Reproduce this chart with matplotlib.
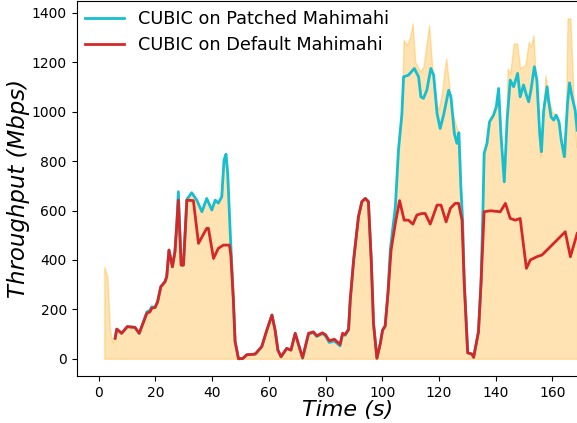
import matplotlib.pyplot as plt

# link capacity trace (shaded area)
link_t = [2.0, 3.1, 4.0, 5.0, 5.8, 6.4, 8.1, 10.1, 12.8, 14.3, 16.1, 17.0, 18.1, 18.7, 19.9,
          20.8, 21.9, 23.4, 24.0, 24.8, 25.5, 26.0, 26.9, 27.5, 28.1, 29.1, 29.9, 31.1, 32.8,
          34.6, 36.4, 38.1, 39.9, 41.1, 42.2, 43.4, 44.2, 44.9, 45.5, 46.4, 47.5, 48.1, 49.3,
          50.8, 52.2, 55.2, 57.5, 59.3, 61.1, 62.2, 63.2, 64.3, 66.3, 67.8, 69.3, 70.7, 71.9,
          74.0, 75.7, 76.9, 78.9, 80.0, 81.3, 83.1, 85.1, 86.0, 86.9, 88.1, 88.7, 89.9, 91.6,
          92.8, 94.0, 95.1, 96.1, 96.9, 98.1, 99.3, 100.1, 101.0, 102.0, 102.8, 104.6, 105.7,
          106.9, 107.5, 108.7, 109.8, 110.7, 111.6, 113.4, 114.5, 115.7, 116.5, 117.5, 118.7,
          119.8, 121.0, 121.8, 122.5, 123.4, 124.5, 126.3, 127.0, 127.7, 128.3, 128.9, 130.1,
          131.6, 132.2, 133.9, 134.8, 135.5, 135.9, 136.9, 137.8, 139.2, 140.2, 141.0, 141.8,
          143.0, 144.2, 145.1, 146.3, 147.5, 148.6, 150.4, 151.6, 152.4, 153.3, 153.9, 155.1,
          155.7, 157.5, 158.6, 159.8, 161.3, 162.3, 163.5, 164.5, 165.3, 166.3, 167.4, 168.4,
          168.7]
link = [372, 332, 116, 65, 83, 120, 103, 130, 127, 103, 160, 190, 190, 210, 208,
        231, 291, 312, 332, 440, 400, 372, 433, 534, 676, 379, 379, 645, 672,
        642, 595, 649, 602, 642, 630, 656, 804, 828, 750, 507, 238, 69, 0,
        1, 16, 19, 49, 116, 177, 116, 35, 8, 42, 35, 103, 49, 4,
        103, 109, 93, 105, 97, 73, 79, 58, 103, 98, 119, 238, 400, 575,
        636, 649, 636, 400, 143, 2, 62, 116, 132, 265, 440, 615, 845,
        1006, 1290, 1270, 1303, 1357, 1202, 1161, 1182, 1283, 1350, 1195, 1060,
        1006, 1074, 1155, 1216, 1128, 1006, 932, 915, 696, 561, 305, 24,
        19, 6, 109, 305, 615, 831, 872, 959, 986, 1020, 1094, 912,
        716, 1175, 1155, 1276, 1276, 1175, 1189, 1283, 1263, 1310, 1182, 912,
        818, 1148, 1060, 1000, 986, 959, 818, 818, 1378, 1378, 1074, 858,
        858]

# CUBIC on patched mahimahi
patched_t = [5.8, 6.4, 8.1, 10.1, 12.8, 14.3, 16.1, 17.0, 18.1, 18.7, 19.9, 20.8, 21.9, 23.4,
             24.0, 24.8, 25.5, 26.0, 26.9, 27.5, 28.1, 29.1, 29.9, 31.1, 32.8, 34.6, 36.4,
             38.1, 39.9, 41.1, 42.2, 43.4, 44.2, 44.9, 45.5, 46.4, 47.5, 48.1, 49.3, 50.8,
             52.2, 55.2, 57.5, 59.3, 61.1, 62.2, 63.2, 64.3, 66.3, 67.8, 69.3, 70.7, 71.9,
             74.0, 75.7, 76.9, 78.9, 80.0, 81.3, 83.1, 85.1, 86.0, 86.9, 88.1, 88.7, 89.9,
             91.6, 92.8, 94.0, 95.1, 96.1, 96.9, 98.1, 99.3, 100.1, 101.0, 102.0, 102.8,
             104.6, 105.7, 106.9, 107.5, 109.2, 111.3, 112.8, 113.6, 114.5, 115.7, 117.1,
             118.1, 119.3, 120.4, 121.6, 123.4, 124.2, 125.4, 126.3, 127.0, 127.7, 128.3,
             128.9, 130.1, 131.6, 132.2, 133.9, 134.8, 135.5, 135.9, 136.9, 137.8, 139.2,
             140.2, 141.0, 141.8, 143.0, 144.0, 145.1, 146.3, 147.7, 148.6, 149.8, 150.8,
             151.6, 152.4, 153.6, 154.5, 155.5, 156.1, 156.9, 158.1, 158.6, 159.5, 160.4,
             161.3, 162.3, 163.1, 164.2, 165.3, 166.0, 166.9, 168.0, 168.7]
patched = [83, 120, 103, 130, 127, 103, 160, 190, 196, 210, 208, 231, 291, 312,
           332, 440, 400, 372, 433, 534, 676, 379, 379, 645, 672, 642, 595,
           649, 602, 642, 630, 656, 804, 828, 750, 507, 238, 69, 0, 1,
           16, 19, 49, 116, 177, 116, 35, 8, 42, 35, 103, 49, 2,
           100, 106, 90, 102, 92, 66, 72, 52, 98, 95, 117, 238, 400,
           575, 636, 649, 636, 400, 143, 2, 62, 116, 132, 265, 440,
           615, 845, 990, 1141, 1148, 1175, 1141, 1060, 1054, 1087, 1175,
           1148, 993, 932, 986, 1087, 1060, 912, 872, 915, 696, 561,
           305, 24, 19, 6, 109, 305, 615, 831, 872, 959, 986,
           1020, 1094, 912, 716, 966, 1128, 1101, 1155, 1060, 1108, 1067,
           1040, 1087, 1182, 1128, 912, 838, 1006, 1101, 1047, 979, 966,
           986, 959, 885, 818, 1033, 1117, 1060, 1006, 925]

# CUBIC on default mahimahi
default_t = [5.8, 6.4, 8.1, 10.1, 12.8, 14.3, 16.1, 17.0, 18.1, 18.7, 19.9, 20.8, 21.9, 23.4,
             24.0, 24.8, 25.5, 26.0, 26.9, 27.5, 28.1, 29.1, 29.9, 31.1, 33.4, 35.2, 38.1,
             38.7, 40.5, 42.2, 44.0, 46.1, 46.6, 47.5, 48.1, 49.3, 50.8, 52.2, 55.2, 57.5,
             59.3, 61.1, 62.2, 63.2, 64.3, 66.3, 67.8, 69.3, 70.7, 71.9, 74.0, 75.7, 76.9,
             78.9, 80.0, 81.3, 83.1, 85.1, 86.0, 86.9, 88.1, 88.7, 89.9, 91.6, 92.8, 94.0,
             95.1, 96.1, 96.9, 98.1, 99.3, 100.1, 101.0, 102.0, 103.1, 104.6, 106.1, 107.7,
             109.2, 110.8, 112.2, 114.0, 115.1, 116.9, 119.3, 120.7, 122.5, 124.0, 125.7,
             126.9, 128.1, 128.9, 130.1, 131.6, 132.2, 133.9, 134.8, 135.9, 138.1, 141.6,
             143.4, 145.1, 146.9, 148.6, 150.8, 152.2, 154.5, 156.3, 159.8, 164.5, 166.3,
             168.7]
default = [83, 120, 103, 130, 127, 103, 157, 184, 190, 204, 208, 231, 291, 312,
           332, 440, 400, 372, 433, 534, 642, 379, 379, 642, 640, 467, 528,
           528, 406, 447, 460, 460, 420, 238, 70, 0, 1, 16, 19, 49,
           116, 177, 116, 35, 8, 42, 35, 103, 49, 4, 103, 109, 93,
           105, 97, 73, 79, 58, 103, 98, 119, 238, 400, 575, 636, 649,
           636, 400, 143, 2, 62, 116, 132, 265, 440, 548, 640, 561,
           561, 545, 582, 588, 588, 545, 622, 622, 554, 609, 629,
           629, 561, 305, 24, 19, 6, 109, 305, 595, 599, 595,
           629, 568, 561, 568, 366, 400, 413, 420, 460, 514, 413,
           507]

fig = plt.figure(figsize=(5.77, 4.23), dpi=100)
ax = fig.add_axes([0.1326, 0.111, 0.938, 0.8866])
ax.fill_between(link_t, link, 0, color='orange', alpha=0.3)
ax.plot(patched_t, patched, color='tab:cyan', lw=2, label='CUBIC on Patched Mahimahi')
ax.plot(default_t, default, color='tab:red', lw=2, label='CUBIC on Default Mahimahi')
ax.set_xlim(-7.8, 183)
ax.set_ylim(-70, 1448)
ax.set_xticks(range(0, 180, 20))
ax.set_xlabel('Time (s)', fontsize=16, style='italic', labelpad=0)
ax.set_ylabel('Throughput (Mbps)', fontsize=16.5, style='italic', labelpad=1)
ax.legend(loc='upper left', frameon=False, fontsize=12.7, borderaxespad=0.1,
          labelspacing=0.45, handlelength=2.2)
fig.savefig('out.png', dpi=100)
